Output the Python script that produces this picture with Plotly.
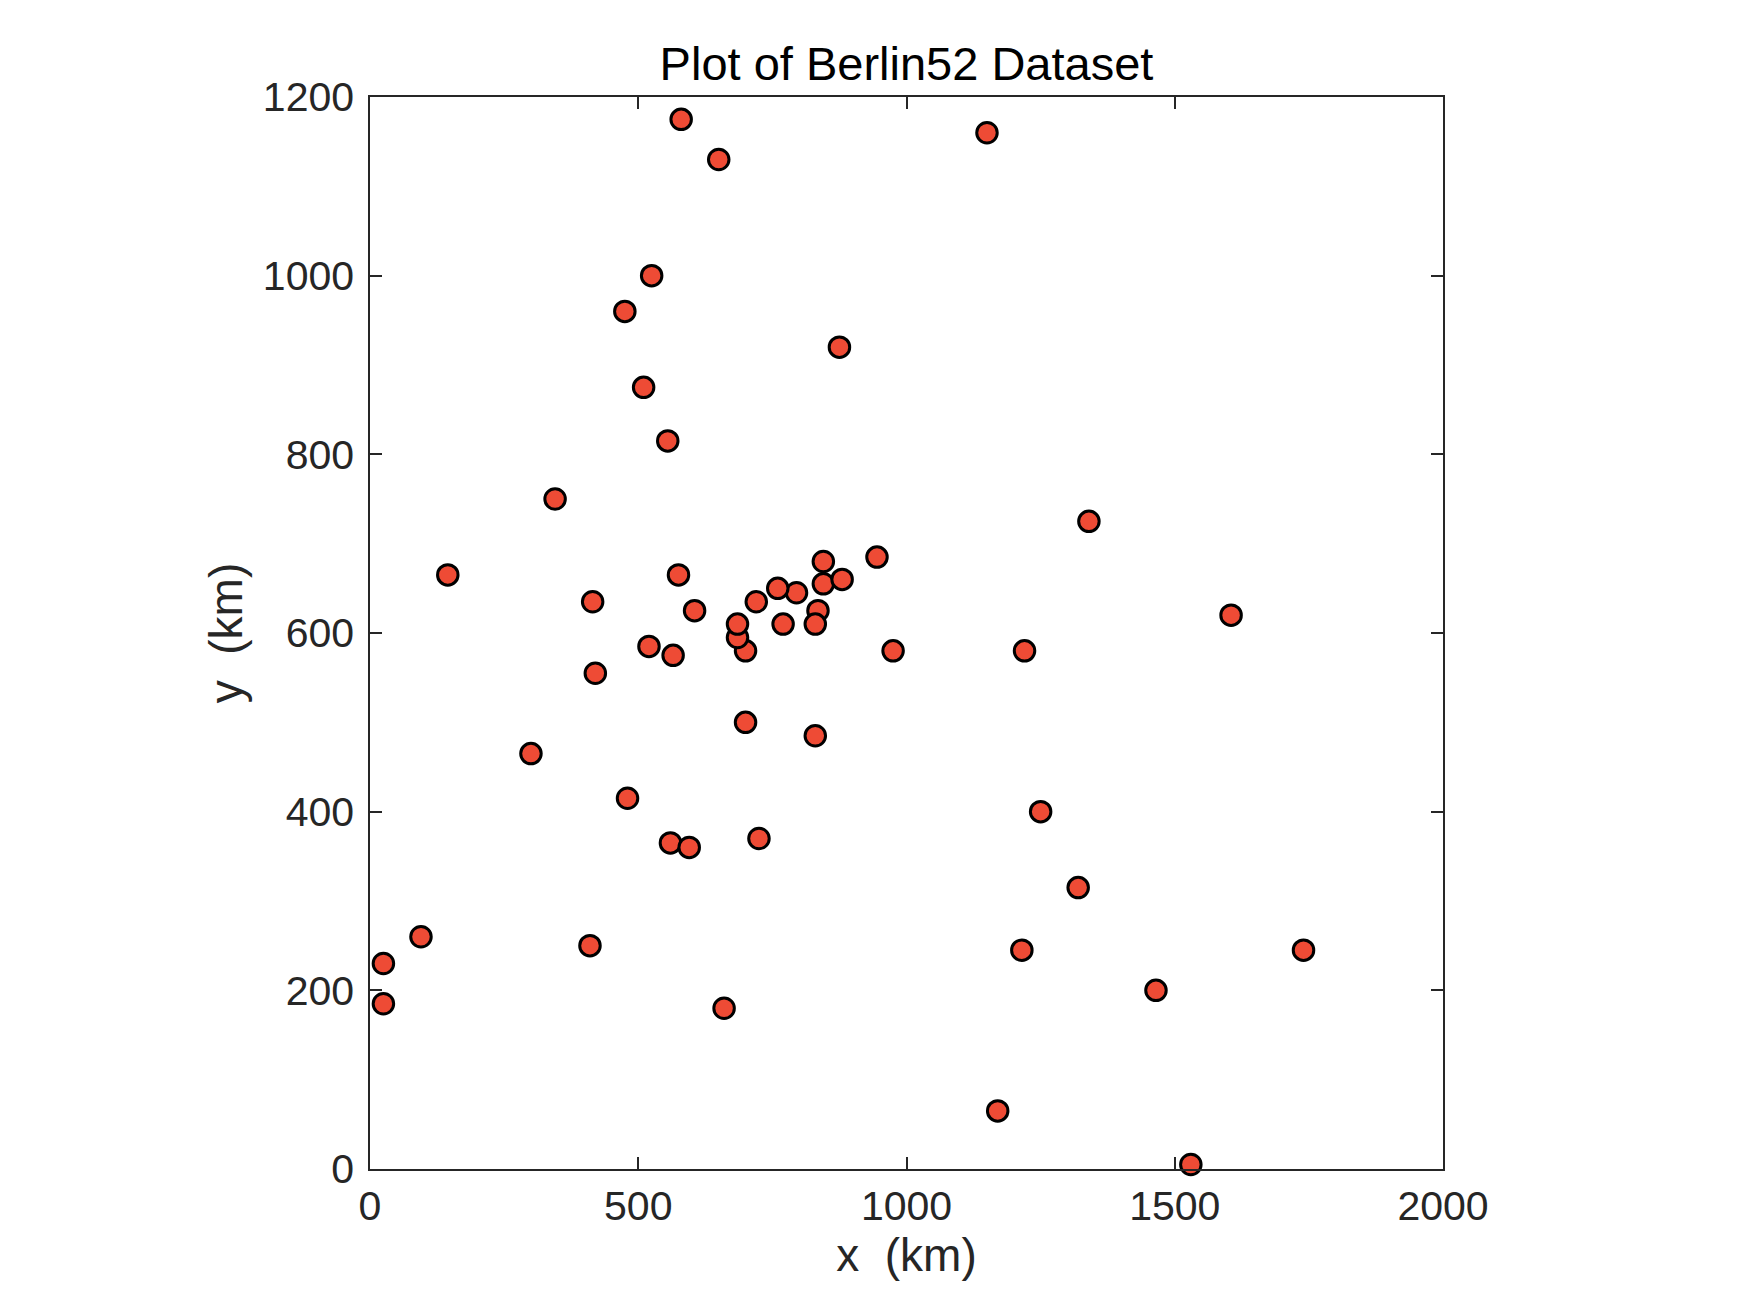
import plotly.graph_objects as go

x_km = [565, 25, 345, 945, 845, 880, 25, 525, 580, 650, 1605, 1220, 1465, 1530, 845, 725, 145, 415, 510, 560,
        300, 520, 480, 835, 975, 1215, 1320, 1250, 660, 410, 420, 575, 1150, 700, 685, 685, 770, 795, 720, 760,
        475, 95, 875, 700, 555, 830, 1170, 830, 605, 595, 1340, 1740]
y_km = [575, 185, 750, 685, 655, 660, 230, 1000, 1175, 1130, 620, 580, 200, 5, 680, 370, 665, 635, 875, 365,
        465, 585, 415, 625, 580, 245, 315, 400, 180, 250, 555, 665, 1160, 580, 595, 610, 610, 645, 635, 650,
        960, 260, 920, 500, 815, 485, 65, 610, 625, 360, 725, 245]

x_ticks = [0, 500, 1000, 1500, 2000]
y_ticks = [0, 200, 400, 600, 800, 1000, 1200]

FONT = "Liberation Sans, Arial, Helvetica, sans-serif"
AX = "#262626"

fig = go.Figure()
fig.add_trace(go.Scatter(
    x=x_km, y=y_km, mode="markers",
    marker=dict(symbol="circle", size=20.5, color="#EE4B35",
                line=dict(color="black", width=3)),
    showlegend=False, cliponaxis=False,
))

axis_common = dict(
    showgrid=False, zeroline=False, showline=True, linecolor=AX, linewidth=1.5,
    mirror="ticks", ticks="inside", ticklen=12, tickwidth=1.5, tickcolor=AX,
    tickfont=dict(family=FONT, size=41, color=AX),
)

fig.update_layout(
    width=1750, height=1313,
    margin=dict(l=370, r=307, t=97, b=144, autoexpand=False),
    paper_bgcolor="white", plot_bgcolor="white",
    title=dict(text="Plot of Berlin52 Dataset", x=(370 + 1443) / 2 / 1750, xanchor="center",
               y=1 - 64 / 1313, yanchor="middle",
               font=dict(family=FONT, size=47, color="black")),
    xaxis=dict(range=[0, 2000], tickvals=x_ticks, ticktext=[str(v) for v in x_ticks],
               title=dict(text="x  (km)", font=dict(family=FONT, size=46, color=AX), standoff=5),
               **axis_common),
    yaxis=dict(range=[0, 1200], tickvals=y_ticks, ticktext=[str(v) for v in y_ticks],
               ticklabelstandoff=6,
               title=dict(text="y  (km)", font=dict(family=FONT, size=46, color=AX), standoff=6),
               **axis_common),
)

fig.write_html("out.html")
